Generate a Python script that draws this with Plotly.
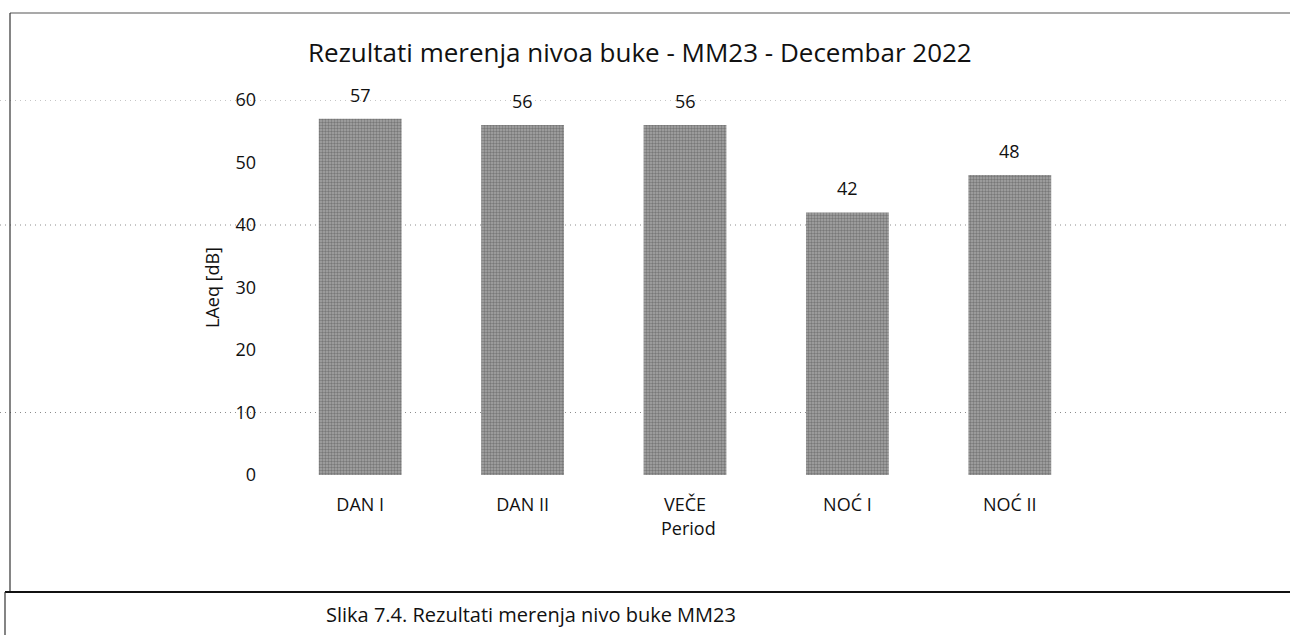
import plotly.graph_objects as go

# Measured noise levels per period
periods = ["DAN I", "DAN II", "VEČE", "NOĆ I", "NOĆ II"]
laeq_db = [57, 56, 56, 42, 48]
y_ticks = [0, 10, 20, 30, 40, 50, 60]

W, H = 1290, 635
FONT = "'Open Sans', 'Noto Sans', sans-serif"
INK = "#111111"


def px_x(p):
    return p / W


def px_y(p):
    return 1 - p / H


fig = go.Figure()
fig.add_trace(go.Bar(
    x=periods,
    y=laeq_db,
    marker=dict(
        color="#939393",
        line=dict(width=0),
        pattern=dict(shape=".", fgcolor="#4a4a4a", bgcolor="#a6a6a6", size=3, solidity=0.5),
    ),
    hoverinfo="x+y",
))

# value labels above the bars
for cat, val in zip(periods, laeq_db):
    fig.add_annotation(x=cat, y=val, text=str(val), showarrow=False,
                       xanchor="center", yanchor="bottom", yshift=10,
                       font=dict(family=FONT, size=18, color=INK))

# dotted guide lines across the frame
for gy in [60, 40, 10]:
    fig.add_shape(type="line", xref="paper", yref="y", x0=0, x1=1, y0=gy, y1=gy,
                  line=dict(color="#8c8c8c", width=1, dash="1px,4px"), layer="below")

# outer frame and caption box
fig.add_shape(type="line", xref="paper", yref="paper", x0=px_x(10), x1=1, y0=px_y(13), y1=px_y(13),
              line=dict(color="#555", width=1.2))
fig.add_shape(type="line", xref="paper", yref="paper", x0=px_x(10), x1=px_x(10), y0=px_y(13), y1=px_y(592),
              line=dict(color="#333", width=1.2))
fig.add_shape(type="line", xref="paper", yref="paper", x0=px_x(5), x1=1, y0=px_y(592), y1=px_y(592),
              line=dict(color="#111", width=2))
fig.add_shape(type="line", xref="paper", yref="paper", x0=px_x(5), x1=px_x(5), y0=px_y(592), y1=0,
              line=dict(color="#333", width=1.2))

# titles
texts = [
    (640, 52, "Rezultati merenja nivoa buke - MM23 - Decembar 2022", 26, 0),
    (212, 288, "LAeq [dB]", 18, -90),
    (688, 528, "Period", 18, 0),
    (531, 614, "Slika 7.4. Rezultati merenja nivo buke MM23", 20, 0),
]
for x, y, txt, size, ang in texts:
    fig.add_annotation(xref="paper", yref="paper", x=px_x(x), y=px_y(y), text=txt, textangle=ang,
                       xanchor="center", yanchor="middle", showarrow=False,
                       font=dict(family=FONT, size=size, color=INK))

fig.update_layout(
    width=W, height=H,
    autosize=False,
    margin=dict(l=0, r=0, t=0, b=0, pad=0),
    paper_bgcolor="white", plot_bgcolor="white",
    bargap=0.49,
    showlegend=False,
    xaxis=dict(domain=[px_x(279), px_x(1091)], showgrid=False, showline=False, zeroline=False,
               ticks="", ticklabelstandoff=17, automargin=False,
               tickfont=dict(family=FONT, size=18, color=INK)),
    yaxis=dict(domain=[px_y(475), px_y(100)], range=[0, 60], tickvals=y_ticks,
               showgrid=False, showline=False, zeroline=False, ticks="",
               ticklabelstandoff=22, automargin=False,
               tickfont=dict(family=FONT, size=18, color=INK)),
)

fig.write_html("out.html")
